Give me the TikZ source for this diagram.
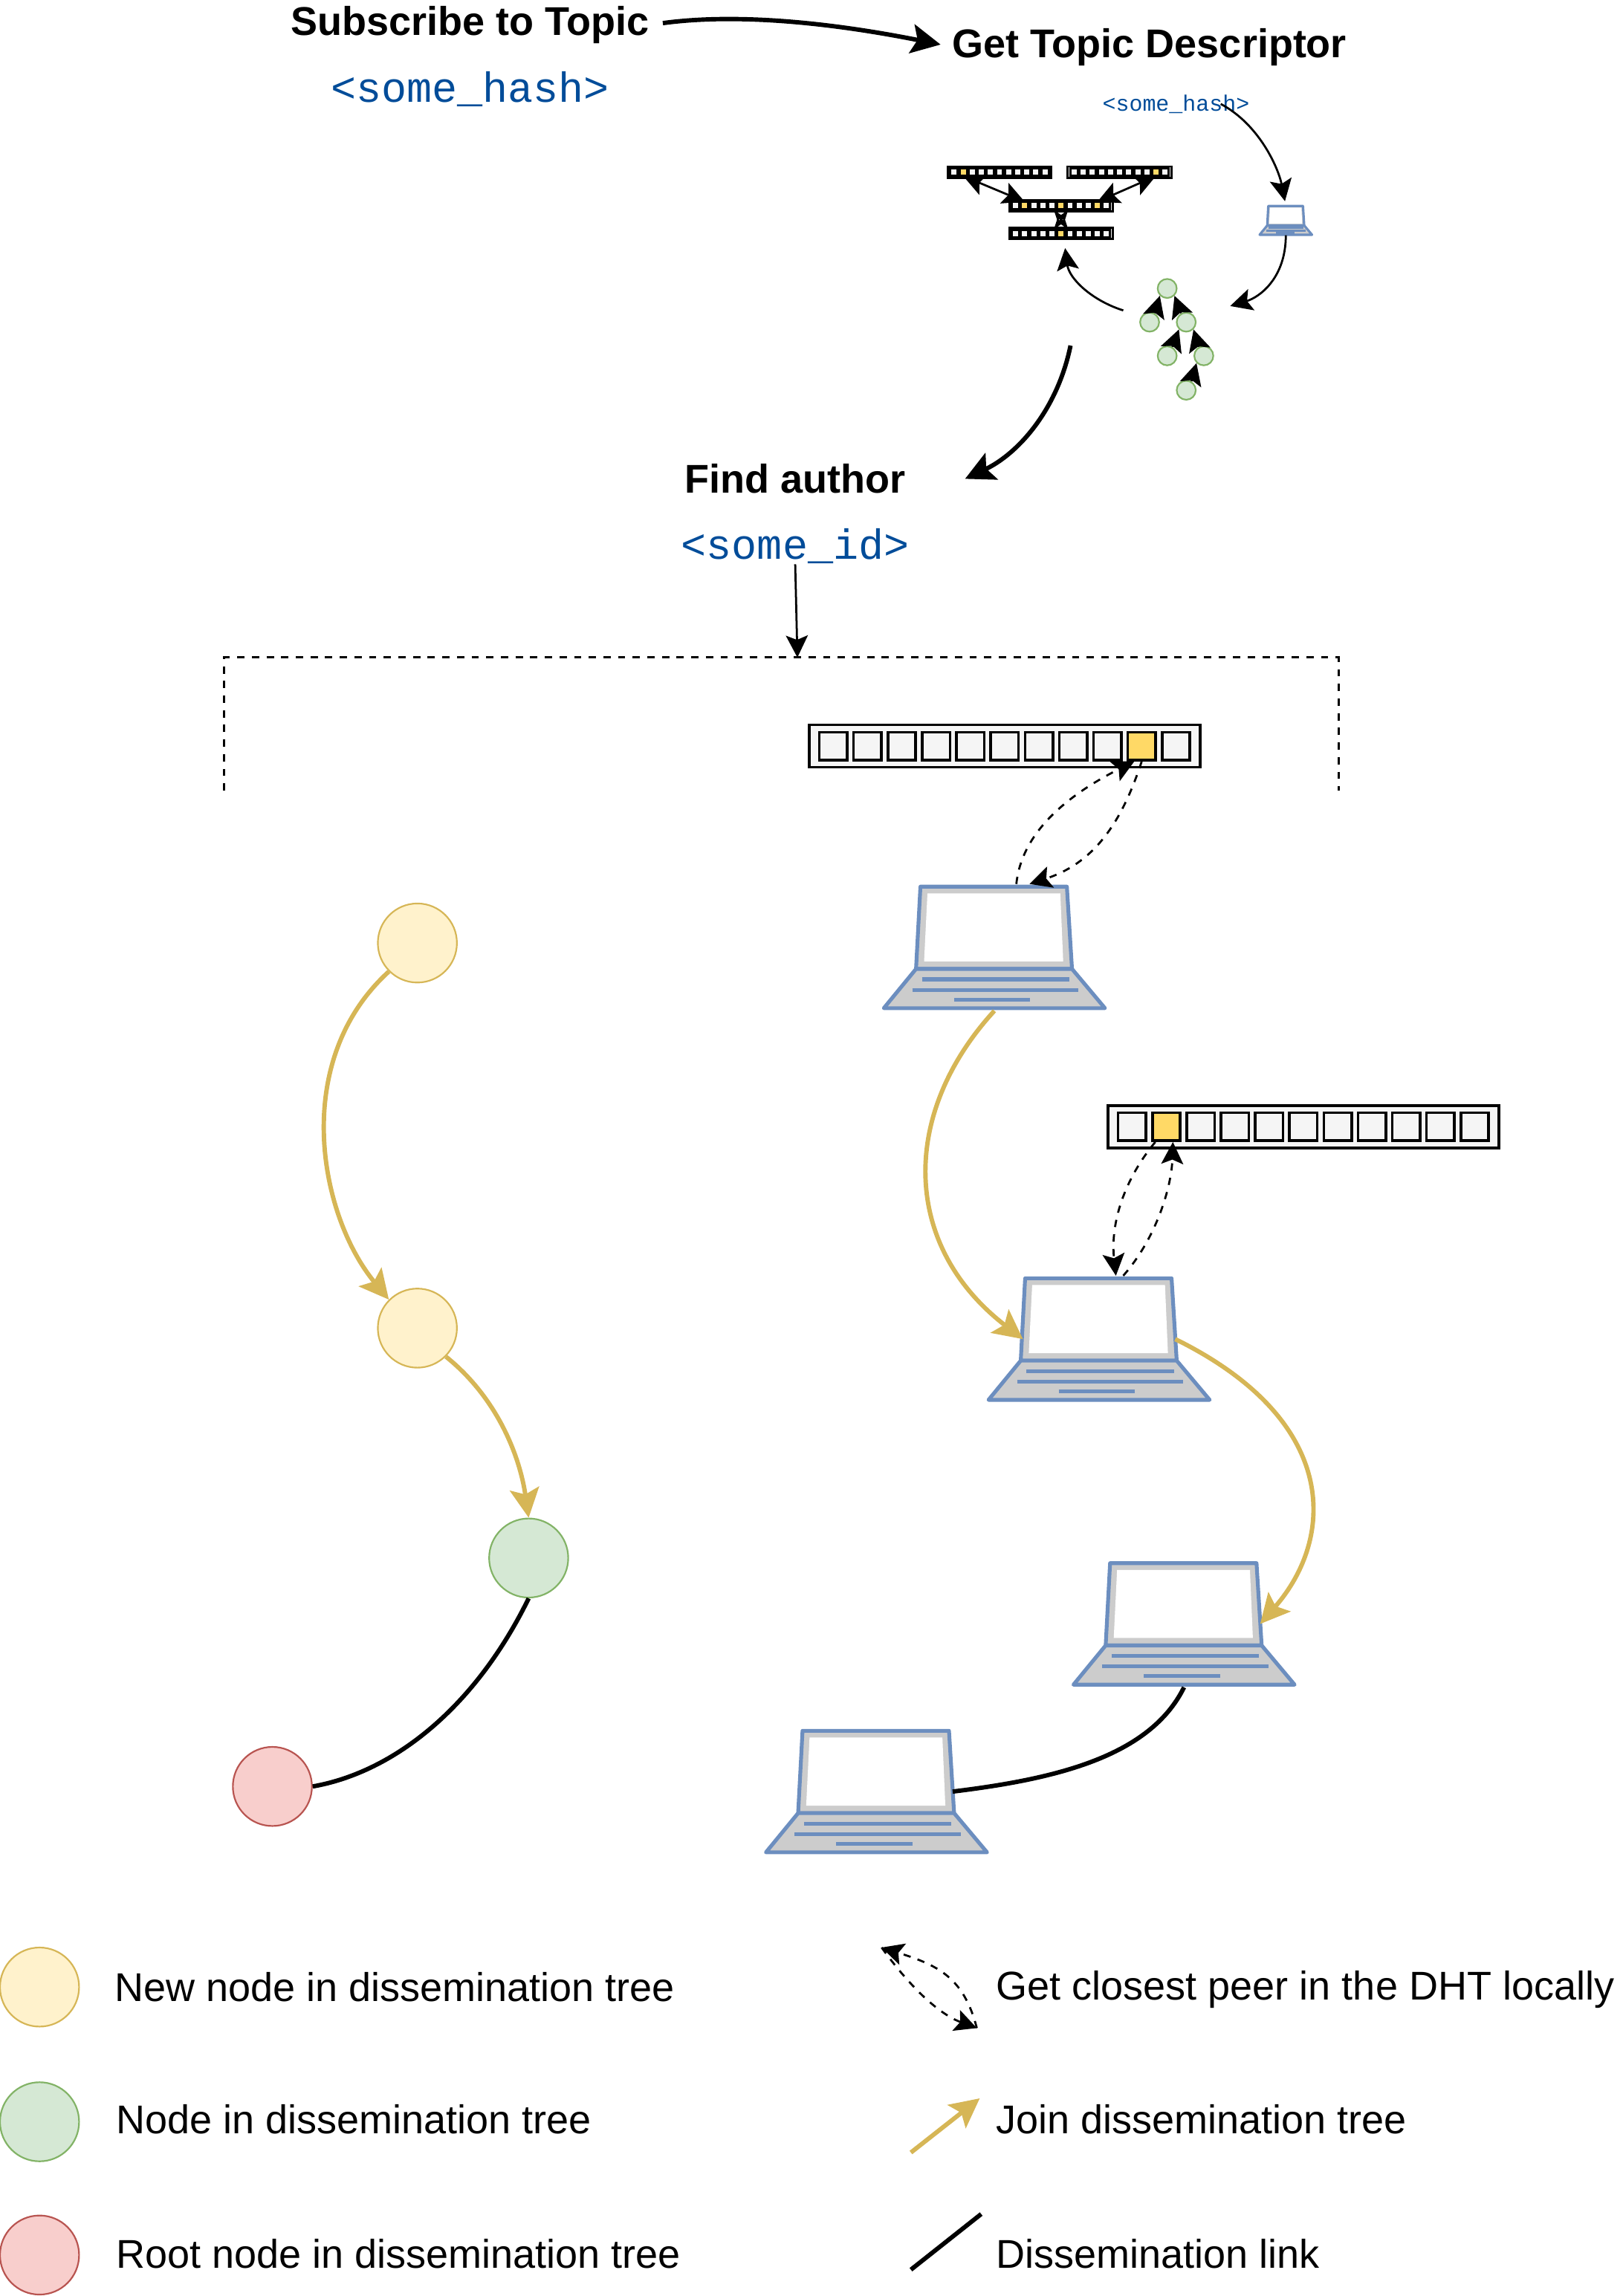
\documentclass[tikz,border=0pt]{standalone}
\usepackage{fontspec}
\setmainfont{Liberation Sans}
\setmonofont{Liberation Mono}
\usetikzlibrary{arrows.meta}

\definecolor{goldline}{HTML}{D6B656}
\definecolor{newfill}{HTML}{FFF2CC}
\definecolor{treefill}{HTML}{D5E8D4}
\definecolor{treeline}{HTML}{82B366}
\definecolor{rootfill}{HTML}{F8CECC}
\definecolor{rootline}{HTML}{B85450}
\definecolor{lapline}{HTML}{6C8EBF}
\definecolor{lapfill}{HTML}{CCCCCC}
\definecolor{cellfill}{HTML}{F5F5F5}
\definecolor{cellhl}{HTML}{FFD966}
\definecolor{hashblue}{HTML}{004C99}

\begin{document}
\begin{tikzpicture}[
  x=0.5pt, y=-0.5pt,
  title/.style={font=\fontsize{13.7}{17}\selectfont\bfseries, inner sep=0pt},
  hash/.style={font=\fontsize{14.4}{17}\selectfont\ttfamily, text=hashblue, inner sep=0pt},
  legend/.style={font=\fontsize{13.7}{17}\selectfont, anchor=base west, inner sep=0pt},
  newnode/.style={draw=goldline, fill=newfill, circle, line width=0.55pt, minimum size=27pt, inner sep=0pt},
  treenode/.style={draw=treeline, fill=treefill, circle, line width=0.55pt, minimum size=27pt, inner sep=0pt},
  rootnode/.style={draw=rootline, fill=rootfill, circle, line width=0.55pt, minimum size=27pt, inner sep=0pt},
  mininode/.style={treenode, minimum size=6.5pt},
  arrow/.style={-{Stealth[length=10pt, width=10pt, inset=2pt]}, line width=1.5pt},
  thinarrow/.style={-{Stealth[length=7.5pt, width=7.5pt, inset=1.5pt]}, line width=0.7pt},
  twoway/.style={{Stealth[length=7.5pt, width=7.5pt, inset=1.5pt]}-{Stealth[length=7.5pt, width=7.5pt, inset=1.5pt]}, line width=0.7pt},
  stacked/.style={{Stealth[length=4pt, width=2.5pt, inset=0.5pt]}-{Stealth[length=4pt, width=2.5pt, inset=0.5pt]}, line width=0.7pt},
  dasharrow/.style={thinarrow, dash pattern=on 2.5pt off 2.5pt},
  goldarrow/.style={arrow, draw=goldline},
  link/.style={line width=1.5pt},
  dhtcell/.style={draw, fill=cellfill, minimum size=9.5pt, inner sep=0pt, transform shape},
  bigstroke/.style={line width=0.9pt},
  smallstroke/.style={line width=0.75pt, scale=0.265},
  bigscreen/.style={line width=1.3pt},
  pics/dhttable/.style={code={
    \node[draw, fill=cellfill, minimum width=133.5pt, minimum height=14.5pt, inner sep=0pt, transform shape] (-box) at (0,0) {};
    \foreach \i in {0,...,10}
      \node[dhtcell] (-c\i) at ({(\i-5)*23.4},0) {};
    \foreach \h in {#1}
      \node[dhtcell, fill=cellhl] (-hl\h) at ({(\h-5)*23.4},0) {};
  }},
  pics/laptop/.style={code={
    \node[minimum width=76pt, minimum height=42pt, inner sep=0pt, transform shape] (-box) at (0,0) {};
    \coordinate (-lidl) at (-52,0);
    \coordinate (-lidr) at (52,0);
    \draw[draw=lapline, fill=lapfill, line join=round] (-50.5,-41.5) -- (49.5,-41.5) -- (53,14.7) -- (-53.5,14.7) -- cycle;
    \fill[white] (-45.7,-36.9) -- (45,-36.9) -- (47,9.6) -- (-48,9.6) -- cycle;
    \draw[draw=lapline, fill=lapfill, line join=round] (-53.5,14.7) -- (53,14.7) -- (75.5,41.5) -- (-75.5,41.5) -- cycle;
    \draw[draw=lapline] (-49.5,21.8) -- (51,21.8);
    \draw[draw=lapline] (-56,29.1) -- (57.5,29.1);
    \draw[draw=lapline] (-27.5,35.7) -- (24.5,35.7);
  }}
]
\useasboundingbox (0,0) rectangle (1108,1568);

% Headings
\node[title] (subscribe) at (321,17) {Subscribe to Topic};
\node[hash] (topichash) at (321,61) {<some\_hash>};
\node[title] (descriptor) at (785,32) {Get Topic Descriptor};
\node[hash, font=\fontsize{7.6}{9}\selectfont\ttfamily] (smallhash) at (803,71) {<some\_hash>};
\node[title] (findauthor) at (543,327) {Find author};
\node[hash] (someid) at (543,373) {<some\_id>};

% Descriptor sketch
\pic[smallstroke] (tabla) at (682.5,117.5) {dhttable={1}};
\pic[smallstroke] (tablb) at (764.5,117.5) {dhttable={9}};
\pic[smallstroke] (tablc) at (724.5,140.5) {dhttable={1,5,9}};
\pic[smallstroke] (tabld) at (724.5,159.5) {dhttable={5}};
\pic[line width=0.8pt, scale=0.237] (lapsmall) at (878,150.5) {laptop};
\node[mininode] (treea) at (797,197) {};
\node[mininode] (treeb) at (785,220) {};
\node[mininode] (treec) at (810,220) {};
\node[mininode] (treed) at (797,243) {};
\node[mininode] (treee) at (822,243) {};
\node[mininode] (treef) at (810,266.5) {};
\coordinate (treein) at (840,209);
\coordinate (treeout) at (767,212);
\coordinate (treedown) at (731,236);
\coordinate (findin) at (659,327);

% Lookup bracket
\coordinate (brackl) at (153,540);
\coordinate (brackr) at (914,540);
\coordinate (brackt) at (544.5,449);

% Tables and laptops
\pic[bigstroke] (tabone) at (686,509.5) {dhttable={9}};
\pic[bigstroke] (tabtwo) at (890,769.5) {dhttable={1}};
\pic[bigscreen] (lapa) at (679,647) {laptop};
\pic[bigscreen] (lapb) at (750.5,914.5) {laptop};
\pic[bigscreen] (lapc) at (808.5,1109) {laptop};
\pic[bigscreen] (lapd) at (598.5,1223.5) {laptop};

% Tree
\node[newnode] (circa) at (285,644) {};
\node[newnode] (circb) at (285,907) {};
\node[treenode] (circc) at (361,1064) {};
\node[rootnode] (circd) at (186,1220) {};

% Legend
\node[newnode] (legnew) at (27,1357) {};
\node[treenode] (legtree) at (27,1449) {};
\node[rootnode] (legroot) at (27,1540) {};
\node[legend] (txtnew) at (78,1367) {New node in dissemination tree};
\node[legend] (txttree) at (79,1457) {Node in dissemination tree};
\node[legend] (txtroot) at (79,1549) {Root node in dissemination tree};
\node[legend] (txtdht) at (680,1366) {Get closest peer in the DHT locally};
\node[legend] (txtjoin) at (680,1457) {Join dissemination tree};
\node[legend] (txtlink) at (680,1549) {Dissemination link};
\coordinate (dhta) at (602,1330);
\coordinate (dhtb) at (667,1385);
\coordinate (joina) at (622,1470);
\coordinate (joinb) at (669,1433);
\coordinate (linka) at (622,1550);
\coordinate (linkb) at (670,1512);

% Arrows
\draw[arrow, shorten <=4.5pt, shorten >=4pt] (subscribe.east) .. controls (510,8) and (580,18) .. (descriptor.west);
\draw[thinarrow, shorten >=1.5pt] ([xshift=-10pt]smallhash.east) .. controls (860,85) and (873,115) .. (lapsmall-box.north);
\draw[thinarrow] (lapsmall-box.south) .. controls (878,190) and (860,203) .. (treein);
\draw[thinarrow, shorten >=3pt] (treeout) .. controls (745,205) and (730,190) .. ([xshift=1pt]tabld-box.south);
\draw[arrow] (treedown) .. controls (722,280) and (695,310) .. (findin);
\draw[thinarrow] (someid.south) -- (brackt);
\draw[thinarrow] (treeb.60) -- (treea.225);
\draw[thinarrow] (treec.120) -- (treea.-45);
\draw[thinarrow] (treed.60) -- (treec.225);
\draw[thinarrow] (treee.120) -- (treec.-45);
\draw[thinarrow] (treef.60) -- (treee.225);
\draw[twoway] (tabla-c1.south) -- (tablc-c1.north);
\draw[twoway] (tablb-c9.south) -- (tablc-c9.north);
\draw[stacked] ([xshift=2.5pt]tablc-c5.south) -- ([xshift=-2.5pt]tabld-c5.north);
\draw[stacked] ([xshift=-2.5pt]tablc-c5.south) -- ([xshift=2.5pt]tabld-c5.north);
\draw[line width=0.7pt, dash pattern=on 2.5pt off 2.5pt] (brackl) |- (brackt) -| (brackr);

\draw[dasharrow] ([xshift=7.5pt]lapa-box.north) .. controls (698,565) and (735,540) .. ([xshift=-2.5pt]tabone-c9.south);
\draw[dasharrow] (tabone-c9.south) .. controls (765,565) and (745,590) .. ([xshift=12pt]lapa-box.north);
\draw[dasharrow] ([xshift=8.25pt]lapb-box.north) .. controls (790,845) and (800,810) .. ([xshift=2.25pt]tabtwo-c1.south);
\draw[dasharrow] ([xshift=-3.75pt]tabtwo-c1.south) .. controls (768,805) and (758,835) .. ([xshift=5.75pt]lapb-box.north);

\draw[goldarrow] (circa.225) .. controls (198,725) and (218,830) .. (circb.135);
\draw[goldarrow] (circb.-45) .. controls (340,955) and (355,995) .. (circc.north);
\draw[link] (circc.south) .. controls (325,1165) and (270,1210) .. (circd.east);

\draw[goldarrow] (lapa-box.south) .. controls (615,760) and (615,850) .. (lapb-lidl);
\draw[goldarrow] (lapb-lidr) .. controls (915,970) and (912,1050) .. (lapc-lidr);
\draw[link] (lapc-box.south) .. controls (785,1200) and (720,1215) .. (lapd-lidr);

\draw[dasharrow] (dhta) .. controls (620,1355) and (640,1375) .. (dhtb);
\draw[dasharrow] (dhtb) .. controls (658,1350) and (640,1342) .. (dhta);
\draw[goldarrow] (joina) -- (joinb);
\draw[link] (linka) -- (linkb);

\end{tikzpicture}
\end{document}
